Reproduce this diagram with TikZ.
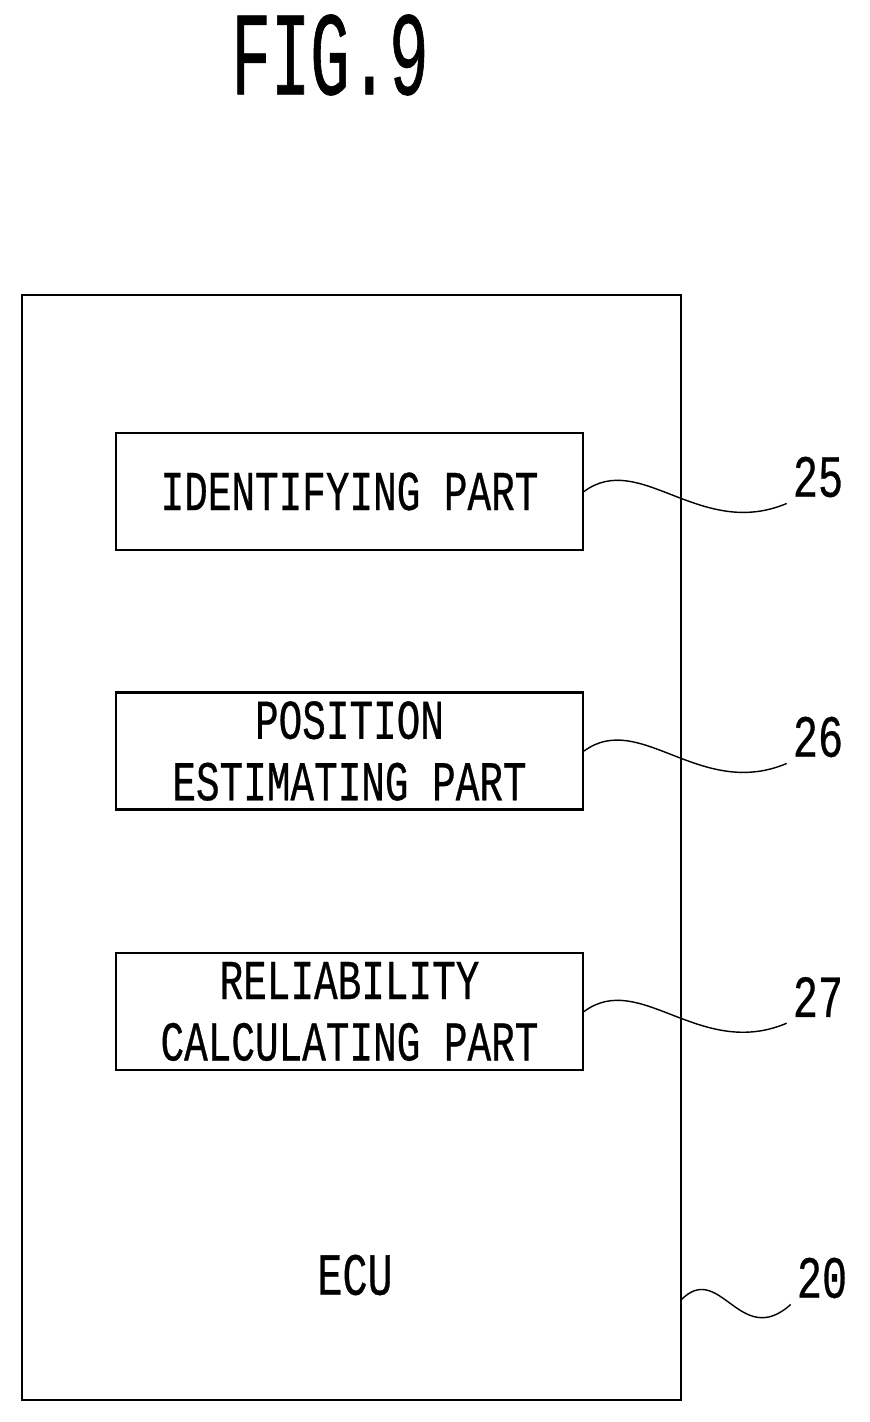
\documentclass[tikz,border=0pt]{standalone}
\usepackage{fontspec}
\newfontfamily\patfont{Liberation Mono}[FakeStretch=0.7,FakeBold=0.5]
\newfontfamily\titlefont{Liberation Mono}[FakeStretch=0.55,FakeBold=0.5]
\begin{document}
\begin{tikzpicture}[x=0.02cm,y=-0.02cm,
  part/.style={draw,line width=1.2pt,minimum width=467*0.02cm,minimum height=117*0.02cm,
    align=center,inner sep=0pt,font=\patfont\fontsize{32}{35}\selectfont},
  refnum/.style={font=\patfont\fontsize{34}{36}\selectfont},
  leader/.style={line width=0.8pt}]
  % bounding box
  \useasboundingbox (0,0) rectangle (869,1422);

  % title
  \node[font=\titlefont\fontsize{68}{70}\selectfont] (title) at (330,55) {FIG.9};

  % ECU outline
  \draw[line width=1.2pt] (22,295) rectangle (681,1400);
  \node[font=\patfont\fontsize{34}{36}\selectfont] (ecu) at (355,1275) {ECU};

  % parts
  \node[part] (ident) at (349.5,491.5) {IDENTIFYING PART};
  \node[part] (posest) at (349.5,751) {POSITION\\ESTIMATING PART};
  \node[part] (relcalc) at (349.5,1011.5) {RELIABILITY\\CALCULATING PART};

  % reference numerals
  \node[refnum] (n25) at (818,477) {25};
  \node[refnum] (n26) at (818,737) {26};
  \node[refnum] (n27) at (818,997) {27};
  \node[refnum] (n20) at (822,1278) {20};
  \coordinate (ecuedge) at (681,1300);

  % leader lines
  \draw[leader] (ident.east) .. controls (640,450) and (700,540) .. (n25.south west);
  \draw[leader] (posest.east) .. controls (640,710) and (700,800) .. (n26.south west);
  \draw[leader] (relcalc.east) .. controls (640,970) and (700,1060) .. (n27.south west);
  \draw[leader] (ecuedge) .. controls (720,1260) and (740,1350) .. (n20.south west);
\end{tikzpicture}
\end{document}
